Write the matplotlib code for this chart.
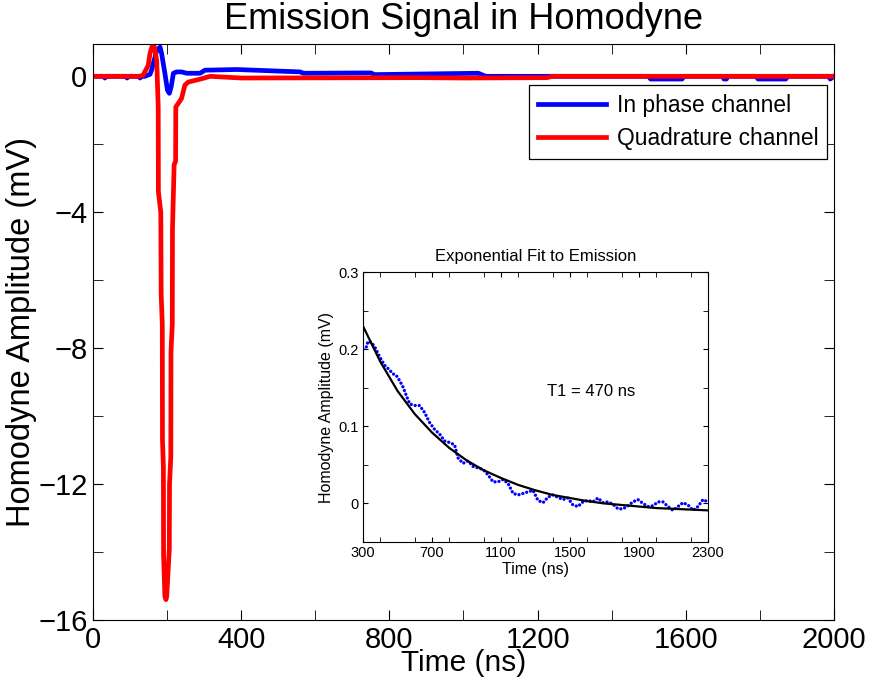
import matplotlib
matplotlib.use("Agg")
import matplotlib.pyplot as plt
from matplotlib.ticker import MultipleLocator, FixedLocator, FixedFormatter

plt.rcParams['font.family'] = ['Liberation Sans', 'DejaVu Sans']

# main panel: homodyne signal (ns, mV)
t_in = [0, 30, 32, 36, 90, 92, 96, 125, 127, 131, 140, 154, 158, 172, 181, 185, 194, 201,
        206, 211, 217, 226, 239, 253, 289, 302, 388, 559, 568, 750, 760, 1040, 1060,
        1500, 1505, 1590, 1595, 1700, 1703, 1710, 1713, 1790, 1795, 1870, 1875,
        1985, 1990, 2000]
v_in = [0, 0, -0.05, 0, 0, -0.05, 0, 0, -0.05, 0, 0, 0.06, 0.18, 0.76, 0.86, 0.68, 0.09, -0.41,
        -0.5, -0.31, 0.09, 0.13, 0.13, 0.09, 0.09, 0.18, 0.2, 0.13, 0.09, 0.1, 0.05, 0.09, 0.0,
        0.0, -0.08, -0.08, 0.0, 0.0, -0.08, -0.08, 0.0, 0.0, -0.08, -0.08, 0.0,
        0.0, -0.08, 0.0]

t_quad = [0, 125, 135, 149, 154, 160, 165, 172, 176, 176.5, 183, 184, 187, 187.5, 190, 190.5,
          194, 197, 199, 206, 206.5, 210, 210.5, 214, 214.5, 219, 223, 223.5, 230, 239, 248,
          257, 297, 316, 400, 880, 1000, 1225, 1240, 2000]
v_quad = [0, 0, 0.03, 0.32, 0.68, 0.9, 0.9, 0.47, -0.9, -3.4, -4.0, -6.4, -7.3, -10.7, -11.5, -14.1,
          -15.3, -15.4, -15.3, -13.9, -12.0, -11.2, -8.1, -7.3, -4.5, -2.6, -2.5, -0.9, -0.8, -0.65, -0.26,
          -0.17, -0.06, 0.0, -0.05, -0.04, -0.05, -0.04, 0.0, 0.0]

# inset: emission tail (ns, mV)
t_tail = [300, 320, 329, 348, 368, 397, 426, 445, 474, 493, 513, 532, 551, 571, 600, 628, 657,
          686, 715, 744, 773, 802, 831, 851, 880, 909, 938, 967, 996, 1025, 1054, 1083, 1112,
          1141, 1170, 1199, 1228, 1257, 1286, 1314, 1344, 1372, 1401, 1430, 1459, 1488, 1517,
          1546, 1575, 1604, 1633, 1662, 1691, 1720, 1749, 1778, 1807, 1836, 1865, 1894, 1923,
          1952, 1981, 2010, 2039, 2068, 2097, 2126, 2155, 2184, 2213, 2242, 2271, 2290]
v_tail = [0.200, 0.203, 0.210, 0.209, 0.203, 0.190, 0.179, 0.175, 0.168, 0.166, 0.159, 0.151,
          0.140, 0.129, 0.127, 0.127, 0.118, 0.105, 0.096, 0.090, 0.081, 0.079, 0.076, 0.059,
          0.052, 0.055, 0.048, 0.046, 0.044, 0.037, 0.028, 0.028, 0.031, 0.026, 0.013, 0.011,
          0.013, 0.015, 0.017, 0.004, 0.001, 0.008, 0.011, 0.008, 0.005, 0.007, -0.002, -0.004,
          0.002, 0.004, 0.002, 0.007, 0.001, 0.002, -0.001, -0.007, -0.007, -0.003, 0.002, 0.005,
          0.000, -0.004, -0.003, 0.002, 0.002, -0.004, -0.009, -0.004, 0.001, -0.002, -0.009,
          -0.004, 0.005, 0.003]

# exponential fit, T1 = 470 ns
t_fit = [300, 400, 500, 600, 700, 800, 900, 1000, 1100, 1200, 1300, 1400, 1500, 1600, 1700,
         1800, 1900, 2000, 2100, 2200, 2300]
v_fit = [0.230, 0.184, 0.146, 0.116, 0.092, 0.072, 0.056, 0.043, 0.033, 0.024, 0.017, 0.011,
         0.007, 0.003, 0.000, -0.002, -0.004, -0.006, -0.007, -0.008, -0.009]

fig = plt.figure(figsize=(8.7, 6.88), dpi=100)
ax = fig.add_axes([0.1069, 0.0988, 0.8517, 0.8372])
ax.plot(t_in, v_in, color='b', lw=3.4, solid_joinstyle='round', label='In phase channel')
ax.plot(t_quad, v_quad, color='r', lw=3.4, solid_joinstyle='round', label='Quadrature channel')
ax.set_xlim(0, 2000)
ax.set_ylim(-16, 0.95)
ax.xaxis.set_major_locator(FixedLocator([0, 400, 800, 1200, 1600, 2000]))
ax.xaxis.set_minor_locator(FixedLocator([200, 600, 1000, 1400, 1800]))
ax.yaxis.set_major_locator(FixedLocator([-16, -12, -8, -4, 0]))
ax.yaxis.set_minor_locator(FixedLocator([-14, -10, -6, -2]))
ax.tick_params(which='both', direction='in', top=True, right=True, labelsize=21, length=7)
ax.tick_params(axis='x', pad=4)
ax.tick_params(axis='y', pad=4)
ax.set_title('Emission Signal in Homodyne', fontsize=26, pad=11)
ax.set_xlabel('Time (ns)', fontsize=21.5, labelpad=-3)
ax.set_ylabel('Homodyne Amplitude (mV)', fontsize=23.5, labelpad=1)
leg = ax.legend(loc='upper right', bbox_to_anchor=(0.9906, 0.9288), borderaxespad=0,
                fontsize=16.4, fancybox=False, edgecolor='k', framealpha=1,
                handlelength=3.0, borderpad=0.38, labelspacing=0.45, handletextpad=0.45)
leg.get_frame().set_linewidth(0.9)

ins = fig.add_axes([0.4172, 0.2122, 0.3966, 0.3924])
ins.plot(t_tail, v_tail, color='b', lw=2.4, linestyle=(0, (0.01, 1.2)), dash_capstyle='round')
ins.plot(t_fit, v_fit, color='k', lw=1.6)
ins.set_xlim(300, 2300)
ins.set_ylim(-0.05, 0.3)
ins.xaxis.set_major_locator(FixedLocator([300, 700, 1100, 1500, 1900, 2300]))
ins.xaxis.set_minor_locator(MultipleLocator(200))
ins.yaxis.set_major_locator(FixedLocator([0, 0.1, 0.2, 0.3]))
ins.yaxis.set_major_formatter(FixedFormatter(['0', '0.1', '0.2', '0.3']))
ins.yaxis.set_minor_locator(FixedLocator([-0.05, 0.05, 0.15, 0.25]))
ins.tick_params(which='both', direction='in', top=True, right=True, labelsize=10.5, length=3.5, pad=3)
ins.set_title('Exponential Fit to Emission', fontsize=12, pad=8)
ins.set_xlabel('Time (ns)', fontsize=11.5, labelpad=1)
ins.set_ylabel('Homodyne Amplitude (mV)', fontsize=11.5, labelpad=3)
ins.text(1620, 0.145, 'T1 = 470 ns', fontsize=12, ha='center', va='center')

fig.savefig('out.png', dpi=100)
